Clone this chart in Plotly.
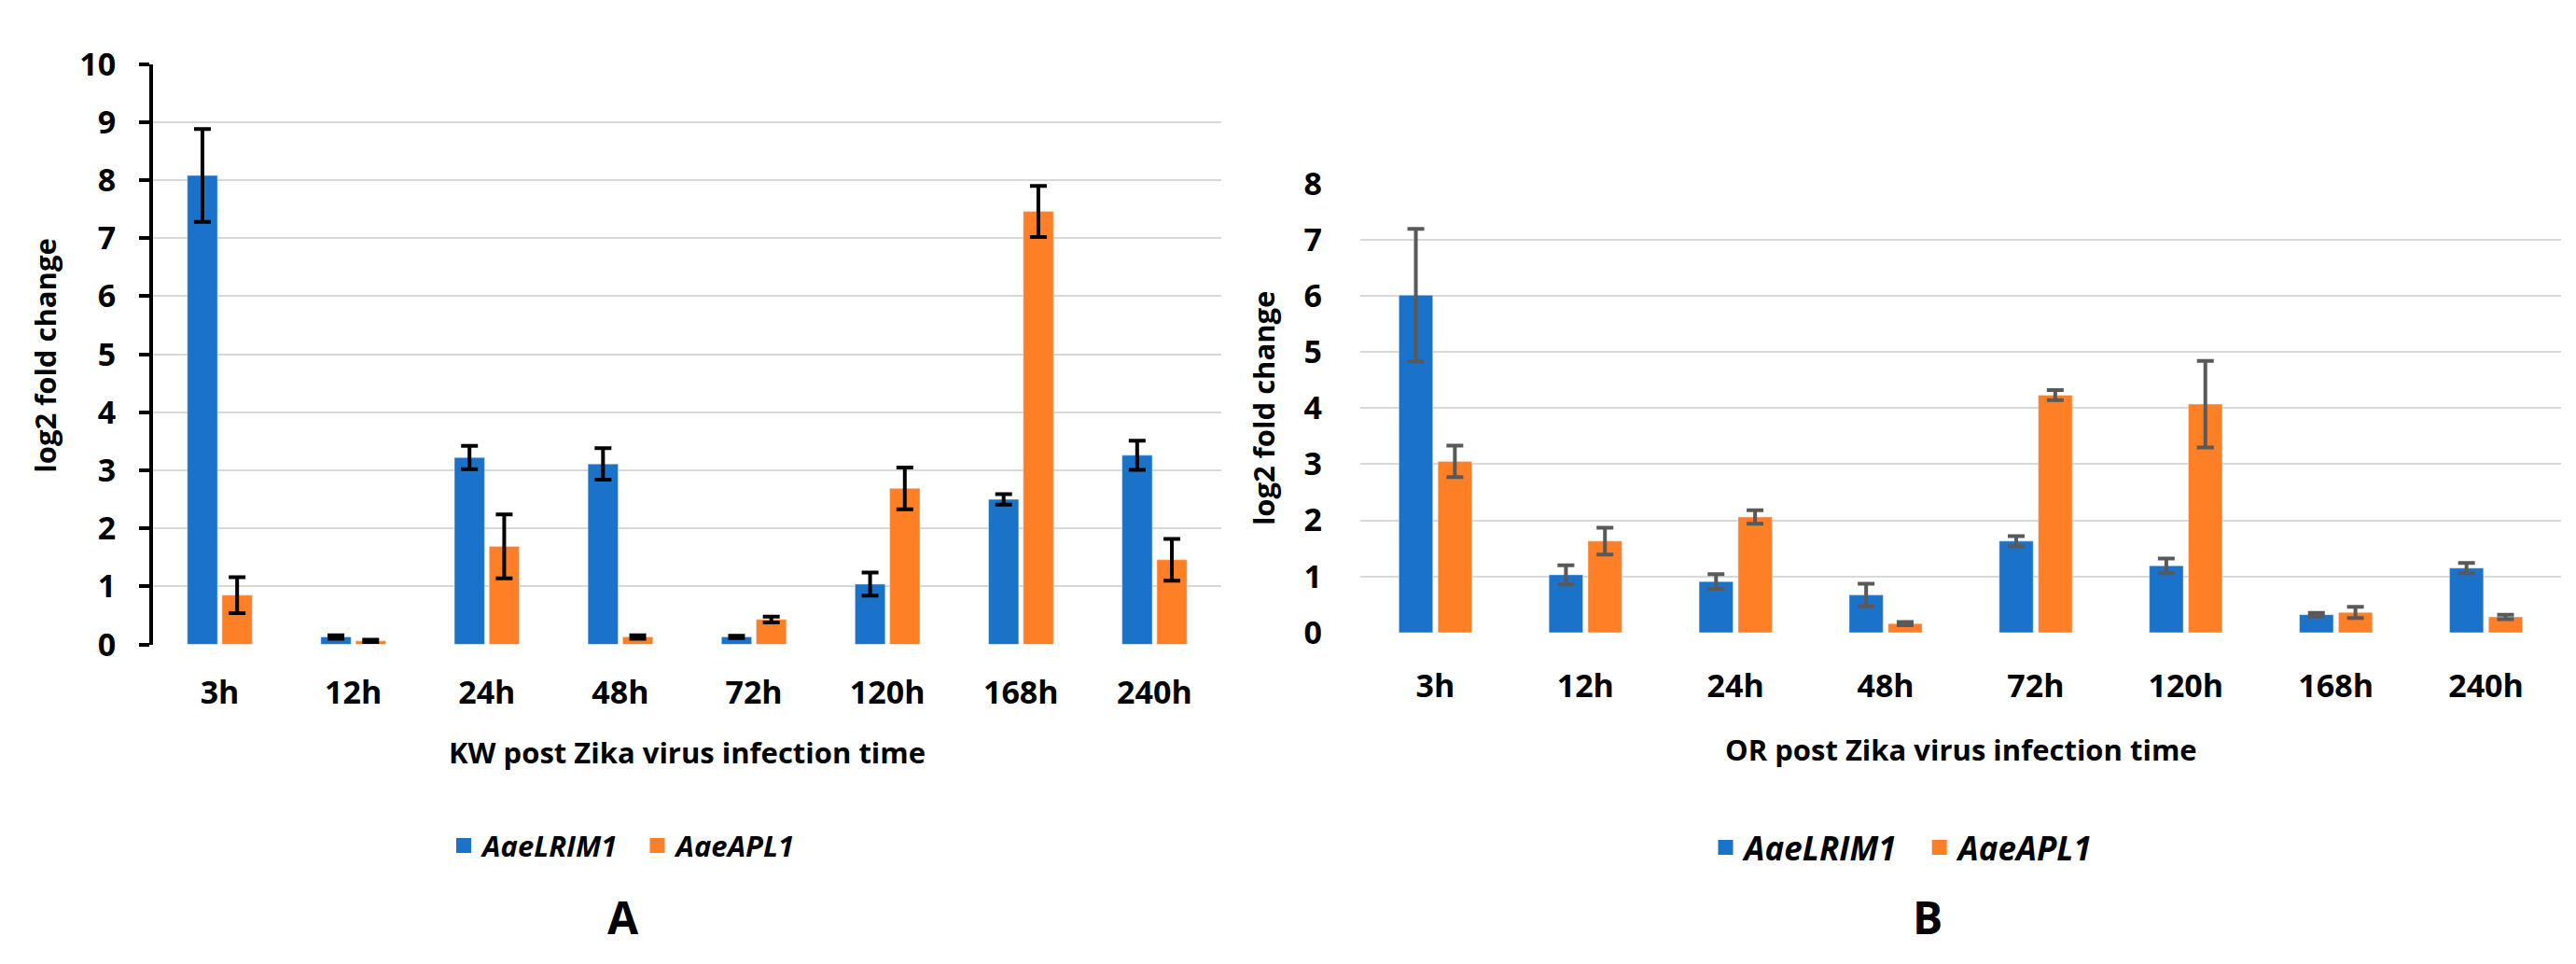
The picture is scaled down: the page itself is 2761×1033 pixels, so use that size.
import plotly.graph_objects as go

categories = ["3h", "12h", "24h", "48h", "72h", "120h", "168h", "240h"]

kw_lrim1 = [8.08, 0.13, 3.22, 3.11, 0.13, 1.04, 2.50, 3.26]
kw_lrim1_err = [0.80, 0.03, 0.20, 0.27, 0.02, 0.20, 0.09, 0.25]
kw_apl1 = [0.85, 0.06, 1.69, 0.13, 0.43, 2.69, 7.46, 1.46]
kw_apl1_err = [0.31, 0.02, 0.55, 0.03, 0.05, 0.36, 0.44, 0.36]

or_lrim1 = [6.01, 1.03, 0.91, 0.67, 1.63, 1.19, 0.32, 1.15]
or_lrim1_err = [1.18, 0.17, 0.13, 0.20, 0.09, 0.13, 0.03, 0.09]
or_apl1 = [3.05, 1.63, 2.06, 0.16, 4.23, 4.07, 0.36, 0.28]
or_apl1_err = [0.28, 0.24, 0.12, 0.03, 0.09, 0.77, 0.10, 0.04]

series_names = ["AaeLRIM1", "AaeAPL1"]

BLUE = "#1A73C9"
ORANGE = "#FF7F27"
FONT = "Open Sans"
W, H = 2761, 1033

fig = go.Figure()

def err(vals, color):
    return dict(type="data", array=vals, visible=True, color=color, thickness=4, width=9)

panels = [
    ("x", "y", "legend", "#000000", [kw_lrim1, kw_apl1], [kw_lrim1_err, kw_apl1_err]),
    ("x2", "y2", "legend2", "#595959", [or_lrim1, or_apl1], [or_lrim1_err, or_apl1_err]),
]
colors = [BLUE, ORANGE]
for xa, ya, lg, ecol, vals, errs in panels:
    for name, v, e, c in zip(series_names, vals, errs, colors):
        fig.add_trace(go.Bar(x=categories, y=v, name=name, marker_color=c, showlegend=False,
                             error_y=err(e, ecol), xaxis=xa, yaxis=ya))
    # legend entries (square swatches)
    for i, (name, c) in enumerate(zip(series_names, colors)):
        pad = "\u00a0\u00a0" if i == 0 else ""
        fig.add_trace(go.Scatter(x=[None], y=[None], mode="markers",
                                 name=f"<b><i>{name}</i></b>{pad}",
                                 marker=dict(symbol="square", size=22, color=c),
                                 xaxis=xa, yaxis=ya, legend=lg, hoverinfo="skip"))

tickfont = dict(family=FONT, size=34, color="#000000", weight="bold")

def px_x(p):
    return p / W

def px_y(p):
    return 1 - p / H

fig.update_layout(
    width=W, height=H,
    margin=dict(l=0, r=0, t=0, b=0),
    paper_bgcolor="white", plot_bgcolor="white",
    barmode="group", bargap=0.48, bargroupgap=0.13,
    font=dict(family=FONT, color="#000000"),
    xaxis=dict(domain=[px_x(156), px_x(1301)], anchor="y", showgrid=False, showline=False,
               ticks="", tickfont=tickfont, ticklabelstandoff=28, zeroline=False),
    yaxis=dict(domain=[px_y(689.3), px_y(38.3)], anchor="x", range=[0, 10], dtick=1,
               showgrid=True, gridcolor="#D9D9D9", gridwidth=2,
               showline=True, linecolor="#000000", linewidth=4,
               ticks="outside", ticklen=11, tickwidth=4, tickcolor="#000000",
               tickfont=tickfont, ticklabelstandoff=18, zeroline=False),
    xaxis2=dict(domain=[px_x(1450), px_x(2737)], anchor="y2", showgrid=False, showline=False,
                ticks="", tickfont=tickfont, ticklabelstandoff=34, zeroline=False),
    yaxis2=dict(domain=[px_y(676), px_y(172.3)], anchor="x2", range=[0, 8], dtick=1,
                showgrid=True, gridcolor="#D9D9D9", gridwidth=2, showline=False,
                ticks="", tickfont=tickfont, ticklabelstandoff=40, zeroline=False),
    legend=dict(orientation="h", x=px_x(660), y=px_y(915), xanchor="center", yanchor="middle",
                font=dict(family=FONT, size=31, color="#000000"), bgcolor="rgba(0,0,0,0)",
                itemwidth=30, tracegroupgap=0, itemsizing="trace"),
    legend2=dict(orientation="h", x=px_x(2032), y=px_y(917), xanchor="center", yanchor="middle",
                 font=dict(family=FONT, size=35, color="#000000"), bgcolor="rgba(0,0,0,0)",
                 itemwidth=30, tracegroupgap=0, itemsizing="trace"),
)

ann_font = dict(family=FONT, size=31, color="#000000", weight="bold")
letter_font = dict(family=FONT, size=48, color="#000000", weight="bold")
annotations = [
    dict(text="log2 fold change", x=px_x(40), y=px_y(365), textangle=-90, font=ann_font),
    dict(text="log2 fold change", x=px_x(1346), y=px_y(424), textangle=-90, font=ann_font),
    dict(text="KW post Zika virus infection time", x=px_x(728), y=px_y(810), font=ann_font),
    dict(text="OR post Zika virus infection time", x=px_x(2094), y=px_y(807), font=ann_font),
    dict(text="A", x=px_x(660), y=px_y(995), font=letter_font),
    dict(text="B", x=px_x(2058), y=px_y(995), font=letter_font),
]
for a in annotations:
    a.update(xref="paper", yref="paper", xanchor="center", yanchor="middle", showarrow=False)
fig.update_layout(annotations=annotations)

fig.write_html("out.html")
